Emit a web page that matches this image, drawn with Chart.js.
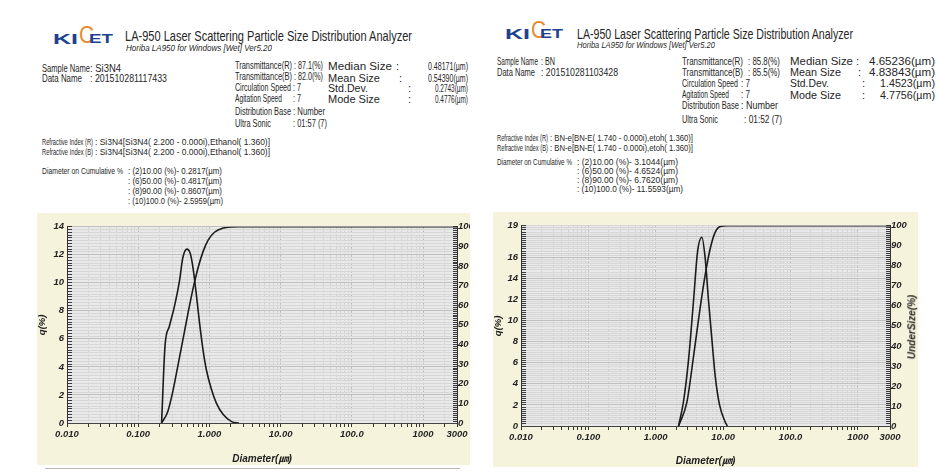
<!DOCTYPE html>
<html>
<head>
<meta charset="utf-8">
<script src="https://cdn.jsdelivr.net/npm/chart.js@4.4.1/dist/chart.umd.min.js"></script>
<style>
  body { margin: 0; background: #fff; }
  #page { position: relative; width: 936px; height: 476px; overflow: hidden; font-family: 'Liberation Sans Narrow', 'Liberation Sans', Arial, sans-serif; color: #262626; }
  .panel { position: absolute; top: 0; height: 476px; overflow: hidden; }
  .t { position: absolute; white-space: nowrap; line-height: 1; transform-origin: 0 50%; }
  .box { position: absolute; background: #f6f3dd; overflow: hidden; }
  canvas { position: absolute; left: 0; top: 0; }
</style>
</head>
<body>
<div id="page">
  <div class="panel" id="leftPanel" style="left:0;width:470px">
    <div class="box" style="left:37px;top:213px;width:433px;height:252px"><canvas id="si3n4Chart" width="470" height="252"></canvas></div>
    <div style="position:absolute;left:45px;top:468px;width:415px;height:1px;background:#b8b8b8"></div>
  </div>
  <div class="panel" id="rightPanel" style="left:470px;width:466px">
    <div class="box" style="left:23px;top:212px;width:425px;height:255px"><canvas id="bnChart" width="425" height="255"></canvas></div>
  </div>
</div>
<script>
// x axis (diameter, um)
var xTickValues = [0.01, 0.1, 1, 10, 100, 1000, 3000];
var xTickLabels = ['0.010', '0.100', '1.000', '10.00', '100.0', '1000', '3000'];
var underTickLabels = [0, 10, 20, 30, 40, 50, 60, 70, 80, 90, 100];

// Si3N4 - frequency q(%) and undersize(%)
var si3n4QDiameter = [0.213, 0.238, 0.274, 0.322, 0.379, 0.424, 0.483, 0.537, 0.587, 0.654, 0.728, 0.814, 0.906, 1.067, 1.256, 1.564, 2.05, 2.60];
var si3n4Q = [0, 5.5, 6.9, 8.3, 10.1, 11.8, 12.4, 12.1, 11.1, 9.2, 7.1, 5.2, 3.8, 2.4, 1.4, 0.6, 0.1, 0];
var si3n4UDiameter = [0.213, 0.259, 0.305, 0.360, 0.424, 0.499, 0.587, 0.692, 0.814, 0.959, 1.19, 1.56, 2.05, 2.60, 3000];
var si3n4Under = [0, 5.6, 15.7, 29, 42.3, 55.7, 68.2, 79, 87.3, 93.2, 97.3, 99.3, 99.9, 100, 100];
var si3n4QTickLabels = [0, 2, 4, 6, 8, 10, 12, 14];

// BN
var bnQDiameter = [2.18, 2.58, 3.07, 3.64, 4.17, 4.84, 5.42, 6.07, 6.82, 7.64, 8.85, 10.7, 11.56];
var bnQ = [0, 2.3, 6.3, 11.9, 16.5, 17.9, 15.9, 11.9, 8.2, 4.7, 2.0, 0.4, 0];
var bnUDiameter = [2.18, 2.9, 3.64, 4.57, 5.42, 6.44, 7.64, 9.06, 11.56, 3000];
var bnUnder = [0, 11.9, 34.8, 59.2, 75.5, 88.6, 96.8, 99.6, 100, 100];
var bnQTickLabels = [0, 2, 4, 6, 8, 10, 12, 14, 16, 19];

var panels = {
  L: { el: document.getElementById('leftPanel'), x: 0 },
  R: { el: document.getElementById('rightPanel'), x: 470 }
};

function put(p, x, y, s, size, w, opt, color) {
  opt = opt || '';
  var d = document.createElement('div');
  d.className = 't';
  d.textContent = s;
  d.style.fontSize = size + 'px';
  if (opt.indexOf('i') >= 0) d.style.fontStyle = 'italic';
  if (opt.indexOf('b') >= 0) d.style.fontWeight = 'bold';
  if (color) d.style.color = color;
  panels[p].el.appendChild(d);
  var nat = d.getBoundingClientRect().width;
  var k = w ? w / nat : 1;
  var left = x - panels[p].x;
  if (opt.indexOf('r') >= 0) left -= nat * k;
  d.style.left = left + 'px';
  d.style.top = (y - d.offsetHeight / 2) + 'px';
  if (w) d.style.transform = 'scaleX(' + k + ')';
  return d;
}

var blue = '#20418f', orange = '#e58a2e';
var fs = 10.5, fr = 11, fl = 8.5;

// left header
put('L', 53, 38.5, 'KI', 14, 25, 'b', blue);
put('L', 79, 35, 'C', 24, 15, '', orange);
put('L', 89, 38.5, 'ET', 13, 24, 'b', blue);
put('L', 125, 36, 'LA-950 Laser Scattering Particle Size Distribution Analyzer', 14.5, 287);
put('L', 126, 48.5, 'Horiba LA950 for Windows [Wet] Ver5.20', 9, 146, 'i');
put('L', 42, 68, 'Sample Name', fs, 48);
put('L', 90, 68, ': Si3N4', fs, 31);
put('L', 42, 78, 'Data Name', fs, 40);
put('L', 90, 78, ': 201510281117433', fs, 77);
put('L', 235, 65, 'Transmittance(R)', fs, 57);
put('L', 294, 65, ': 87.1(%)', fs, 29);
put('L', 235, 76, 'Transmittance(B)', fs, 57);
put('L', 294, 76, ': 82.0(%)', fs, 29);
put('L', 235, 87, 'Circulation Speed', fs, 56);
put('L', 293, 87, ': 7', fs, 8);
put('L', 235, 98, 'Agitation Speed', fs, 47);
put('L', 293, 98, ': 7', fs, 8);
put('L', 235, 111, 'Distribution Base', fs, 56);
put('L', 293, 111, ': Number', fs, 32);
put('L', 235, 123, 'Ultra Sonic', fs, 36);
put('L', 293, 123, ': 01:57 (7)', fs, 34);
put('L', 328, 66, 'Median Size', fr, 64);
put('L', 396, 66, ':', fr);
put('L', 468, 66, '0.48171(\u00b5m)', fr, 40, 'r');
put('L', 328, 78, 'Mean Size', fr, 52);
put('L', 399, 78, ':', fr);
put('L', 468, 78, '0.54390(\u00b5m)', fr, 40, 'r');
put('L', 328, 88, 'Std.Dev.', fr, 40);
put('L', 408, 88, ':', fr);
put('L', 468, 88, '0.2743(\u00b5m)', fr, 33, 'r');
put('L', 328, 99, 'Mode Size', fr, 52);
put('L', 408, 99, ':', fr);
put('L', 468, 99, '0.4776(\u00b5m)', fr, 33, 'r');
put('L', 42, 142, 'Refractive Index (R)', fl, 51);
put('L', 95, 142, ': Si3N4[Si3N4( 2.200 - 0.000i),Ethanol( 1.360)]', fl, 175);
put('L', 42, 152, 'Refractive Index (B)', fl, 51);
put('L', 95, 152, ': Si3N4[Si3N4( 2.200 - 0.000i),Ethanol( 1.360)]', fl, 175);
put('L', 42, 171, 'Diameter on Cumulative %', fl, 81);
put('L', 128, 171, ': (2)10.00 (%)-  0.2817(\u00b5m)', fl, 94);
put('L', 128, 181, ': (6)50.00 (%)-  0.4817(\u00b5m)', fl, 94);
put('L', 128, 191, ': (8)90.00 (%)-  0.8607(\u00b5m)', fl, 94);
put('L', 128, 201, ': (10)100.0 (%)-  2.5959(\u00b5m)', fl, 95);

// right header
put('R', 505, 33.5, 'KI', 14, 25, 'b', blue);
put('R', 531, 30, 'C', 24, 15, '', orange);
put('R', 540, 33.5, 'ET', 13, 23, 'b', blue);
put('R', 577, 34, 'LA-950 Laser Scattering Particle Size Distribution Analyzer', 14.5, 276);
put('R', 577, 45, 'Horiba LA950 for Windows [Wet] Ver5.20', 9, 138, 'i');
put('R', 497, 61, 'Sample Name', fs, 41);
put('R', 541, 61, ': BN', fs, 14);
put('R', 497, 72, 'Data Name', fs, 38);
put('R', 541, 72, ': 201510281103428', fs, 77);
put('R', 682, 61, 'Transmittance(R)', fs, 61);
put('R', 748, 61, ': 85.8(%)', fs, 32);
put('R', 682, 72, 'Transmittance(B)', fs, 61);
put('R', 748, 72, ': 85.5(%)', fs, 32);
put('R', 682, 83, 'Circulation Speed', fs, 56);
put('R', 741, 83, ': 7', fs, 9);
put('R', 682, 94, 'Agitation Speed', fs, 47);
put('R', 741, 94, ': 7', fs, 9);
put('R', 682, 105, 'Distribution Base', fs, 57);
put('R', 741, 105, ': Number', fs, 37);
put('R', 682, 119, 'Ultra Sonic', fs, 36);
put('R', 744, 119, ': 01:52 (7)', fs, 38);
put('R', 790, 61, 'Median Size', fr, 63);
put('R', 856, 61, ':', fr);
put('R', 935, 61, '4.65236(\u00b5m)', fr, 66, 'r');
put('R', 790, 72, 'Mean Size', fr, 51);
put('R', 858, 72, ':', fr);
put('R', 935, 72, '4.83843(\u00b5m)', fr, 66, 'r');
put('R', 790, 83, 'Std.Dev.', fr, 39);
put('R', 862, 83, ':', fr);
put('R', 935, 83, '1.4523(\u00b5m)', fr, 55, 'r');
put('R', 790, 95, 'Mode Size', fr, 51);
put('R', 862, 95, ':', fr);
put('R', 935, 95, '4.7756(\u00b5m)', fr, 55, 'r');
put('R', 497, 138, 'Refractive Index (R)', fl, 51);
put('R', 550, 138, ': BN-e[BN-E( 1.740 - 0.000i),etoh( 1.360)]', fl, 143);
put('R', 497, 148, 'Refractive Index (B)', fl, 51);
put('R', 550, 148, ': BN-e[BN-E( 1.740 - 0.000i),etoh( 1.360)]', fl, 143);
put('R', 497, 162, 'Diameter on Cumulative %', fl, 75);
put('R', 577, 162, ': (2)10.00 (%)-  3.1044(\u00b5m)', fl, 101);
put('R', 577, 171, ': (6)50.00 (%)-  4.6524(\u00b5m)', fl, 101);
put('R', 577, 180, ': (8)90.00 (%)-  6.7620(\u00b5m)', fl, 101);
put('R', 577, 189, ': (10)100.0 (%)-  11.5593(\u00b5m)', fl, 106);

var under = put('R', 912, 327, 'UnderSize(%)', 10, 0, 'ib');
under.style.transformOrigin = '50% 50%';
under.style.left = (912 - 470 - under.offsetWidth / 2) + 'px';
under.style.transform = 'rotate(-90deg)';

// charts
var fontFam = "'Liberation Sans Narrow', 'Liberation Sans', sans-serif";
var tickFont = { family: fontFam, size: 9.5, style: 'italic', weight: 'bold' };

var xGrid = [];
for (var e = -2; e <= 3; e++) {
  for (var m = 1; m <= 9; m++) {
    var v = +(m * Math.pow(10, e)).toPrecision(2);
    if (v <= 3000) xGrid.push(v);
  }
}

function xIndex(value) {
  for (var i = 0; i < xTickValues.length; i++) {
    if (Math.abs(value - xTickValues[i]) / xTickValues[i] < 1e-6) return i;
  }
  return -1;
}

var plotBg = {
  id: 'plotBg',
  beforeDraw: function (chart) {
    var a = chart.chartArea, c = chart.ctx;
    c.save();
    c.fillStyle = '#e9e9e9';
    c.fillRect(a.left, a.top, a.right - a.left, a.bottom - a.top);
    c.restore();
  }
};

function points(xs, ys) {
  return xs.map(function (x, i) { return { x: x, y: ys[i] }; });
}

function makeChart(id, qD, qV, uD, uV, qMax, qLabels, sizes) {
  var ctx = document.getElementById(id).getContext('2d');
  return new Chart(ctx, {
    type: 'line',
    data: {
      datasets: [
        { label: 'q(%)', data: points(qD, qV), yAxisID: 'y', borderColor: '#1c1c1c', borderWidth: 1.6, pointRadius: 0, cubicInterpolationMode: 'monotone' },
        { label: 'UnderSize(%)', data: points(uD, uV), yAxisID: 'y2', borderColor: '#1c1c1c', borderWidth: 1.6, pointRadius: 0, cubicInterpolationMode: 'monotone' }
      ]
    },
    plugins: [plotBg],
    options: {
      responsive: false,
      animation: false,
      layout: { padding: { top: 10 } },
      plugins: { legend: { display: false }, tooltip: { enabled: false } },
      scales: {
        x: {
          type: 'logarithmic', min: 0.01, max: 3000,
          afterBuildTicks: function (s) { s.ticks = xGrid.map(function (v) { return { value: v }; }); },
          afterFit: function (s) { s.height = sizes.bottom; },
          ticks: {
            autoSkip: false, maxRotation: 0, minRotation: 0, padding: 2, color: '#222', font: tickFont,
            callback: function (value) { var i = xIndex(value); return i >= 0 ? xTickLabels[i] : ''; }
          },
          grid: {
            color: function (c) { return xIndex(c.tick.value) >= 0 ? '#b8b8b8' : '#d0d0d0'; },
            tickLength: 4, tickColor: '#333'
          },
          border: { color: '#444', dash: [2, 2] },
          title: { display: true, text: 'Diameter(\u339b)', color: '#222', padding: 0, font: { family: fontFam + ", 'Noto Sans CJK KR'", size: 10, style: 'italic', weight: 'bold' } }
        },
        y: {
          position: 'left', min: 0, max: qMax,
          afterBuildTicks: function (s) {
            var t = [];
            for (var i = 0; i * 2 <= qMax * 10; i++) t.push({ value: i * 2 / 10 });
            s.ticks = t;
          },
          afterFit: function (s) { s.width = sizes.left; },
          ticks: {
            autoSkip: false, padding: 8, color: '#222', font: tickFont,
            callback: function (value) { return qLabels.indexOf(value) >= 0 ? String(value) : ''; }
          },
          grid: {
            color: function (c) { return c.tick.value % 2 === 0 ? '#c0c0c0' : '#d6d6d6'; },
            tickLength: -5, tickColor: '#3a3a3a'
          },
          border: { color: '#333' },
          title: { display: true, text: 'q(%)', color: '#222', padding: 0, font: tickFont }
        },
        y2: {
          position: 'right', min: 0, max: 100,
          afterBuildTicks: function (s) {
            var t = [];
            for (var i = 0; i <= 100; i++) t.push({ value: i });
            s.ticks = t;
          },
          afterFit: function (s) { s.width = sizes.right; },
          ticks: {
            autoSkip: false, padding: 5, color: '#222', font: tickFont,
            callback: function (value) { return underTickLabels.indexOf(value) >= 0 ? String(value) : ''; }
          },
          grid: { drawOnChartArea: false, tickLength: -4, tickColor: '#3a3a3a' },
          border: { color: '#333' }
        }
      }
    }
  });
}

var si3n4Chart = makeChart('si3n4Chart', si3n4QDiameter, si3n4Q, si3n4UDiameter, si3n4Under, 14, si3n4QTickLabels, { left: 30, right: 50, bottom: 42 });
var bnChart = makeChart('bnChart', bnQDiameter, bnQ, bnUDiameter, bnUnder, 19, bnQTickLabels, { left: 28, right: 28, bottom: 41 });
</script>
</body>
</html>
